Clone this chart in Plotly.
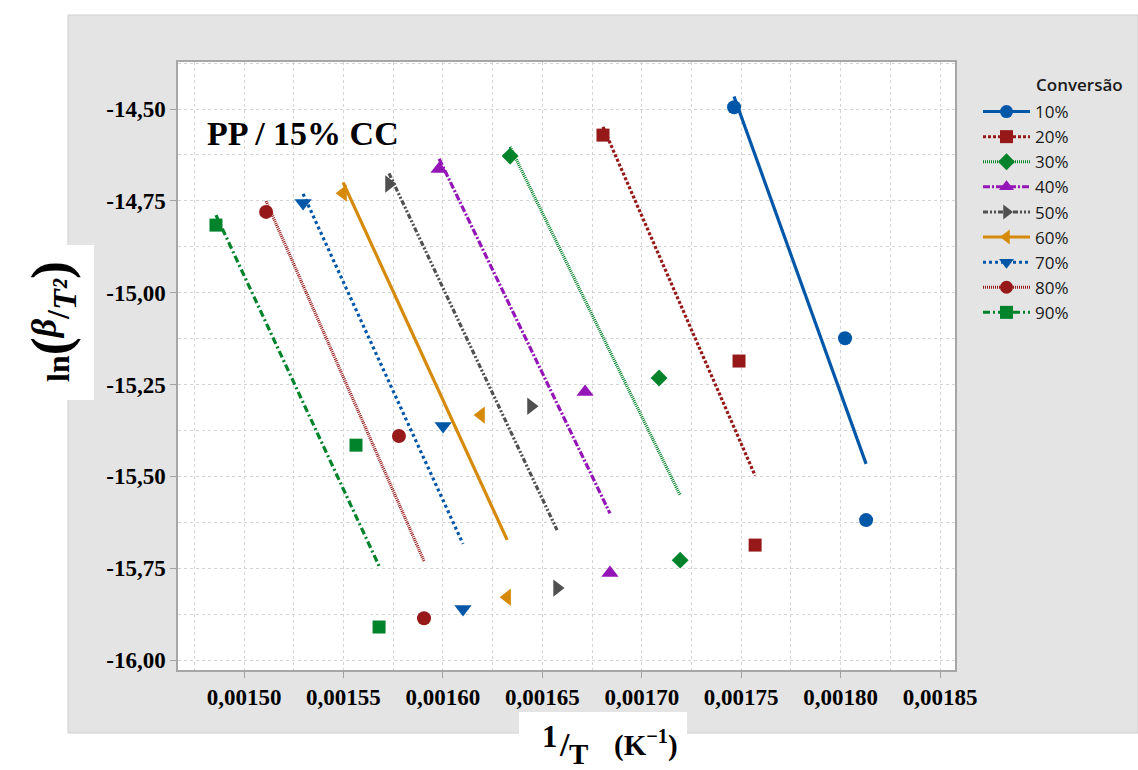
import numpy as np
import plotly.graph_objects as go

# Conversion levels (legend labels)
conversions = ["10%", "20%", "30%", "40%", "50%", "60%", "70%", "80%", "90%"]

# 1/T (K^-1) and ln(beta/T^2) for each conversion level (three heating rates)
x_10 = [0.0017464, 0.0018022, 0.0018128]
y_10 = [-14.495, -15.124, -15.619]
x_20 = [0.0016805, 0.0017489, 0.0017570]
y_20 = [-14.571, -15.186, -15.687]
x_30 = [0.0016338, 0.0017087, 0.0017193]
y_30 = [-14.628, -15.232, -15.728]
x_40 = [0.0015981, 0.0016715, 0.0016840]
y_40 = [-14.663, -15.270, -15.763]
x_50 = [0.0015729, 0.0016443, 0.0016574]
y_50 = [-14.704, -15.309, -15.804]
x_60 = [0.0015498, 0.0016192, 0.0016323]
y_60 = [-14.729, -15.333, -15.829]
x_70 = [0.0015297, 0.0016001, 0.0016101]
y_70 = [-14.756, -15.363, -15.861]
x_80 = [0.0015111, 0.0015779, 0.0015905]
y_80 = [-14.780, -15.390, -15.886]
x_90 = [0.0014859, 0.0015563, 0.0015679]
y_90 = [-14.816, -15.415, -15.910]

y_tick_vals = [-14.50, -14.75, -15.00, -15.25, -15.50, -15.75, -16.00]
y_tick_labels = ["-14,50", "-14,75", "-15,00", "-15,25", "-15,50", "-15,75", "-16,00"]

series_x = [x_10, x_20, x_30, x_40, x_50, x_60, x_70, x_80, x_90]
series_y = [y_10, y_20, y_30, y_40, y_50, y_60, y_70, y_80, y_90]

colors = ["#0057A8", "#961818", "#00832B", "#9416B6", "#505050",
          "#D68A0A", "#0057A8", "#961818", "#00832B"]
symbols = ["circle", "square", "diamond", "triangle-up", "triangle-right",
           "triangle-left", "triangle-down", "circle", "square"]
sizes = [14, 13, 13, 15, 15, 15, 15, 14, 13]
dashes = ["solid", "3px,2px", "1px,1px", "7px,2px,2px,2px",
          "5px,2px,2px,2px,2px,2px", "solid", "3px,3px", "1px,1px",
          "7px,3px,2px,3px"]

fig = go.Figure()

# Linear fit of ln(beta/T^2) vs 1/T for each conversion level
for xs, ys, c, d in zip(series_x, series_y, colors, dashes):
    xa, ya = np.array(xs), np.array(ys)
    slope, icpt = np.polyfit(xa, ya, 1)
    xf = np.array([xa.min(), xa.max()])
    fig.add_trace(go.Scatter(x=xf, y=slope * xf + icpt, mode="lines",
                             line=dict(color=c, width=3.2, dash=d),
                             showlegend=False, hoverinfo="skip"))

# Measured points
for name, xs, ys, c, s, sz in zip(conversions, series_x, series_y, colors, symbols, sizes):
    fig.add_trace(go.Scatter(x=xs, y=ys, mode="markers", name=name,
                             marker=dict(color=c, symbol=s, size=sz, line=dict(width=0)),
                             showlegend=False))

# Legend entries (line + marker)
for name, c, s, d in zip(conversions, colors, symbols, dashes):
    fig.add_trace(go.Scatter(x=[None], y=[None], mode="lines+markers", name=name,
                             line=dict(color=c, width=3, dash=d),
                             marker=dict(color=c, symbol=s, size=13)))

W, H = 1138, 770
L, R, T, B = 178, 955, 62, 670


def px(x):
    return (x - L) / (R - L)


def py(y):
    return (B - y) / (B - T)


shapes = [
    dict(type="rect", xref="paper", yref="paper", layer="below",
         x0=px(68), x1=px(1138), y0=py(733), y1=py(15),
         fillcolor="#E4E4E4", line=dict(color="#CFCFCF", width=1)),
    dict(type="rect", xref="paper", yref="paper", layer="below",
         x0=px(0), x1=px(94), y0=py(400), y1=py(245),
         fillcolor="white", line=dict(width=0)),
    dict(type="rect", xref="paper", yref="paper", layer="below",
         x0=px(519), x1=px(687), y0=py(772), y1=py(712),
         fillcolor="white", line=dict(width=0)),
    dict(type="rect", xref="paper", yref="paper", layer="below",
         x0=0, x1=1, y0=0, y1=1,
         fillcolor="white", line=dict(width=0)),
]

serif = "Liberation Serif"
grid = dict(showgrid=True, gridcolor="#D4D4D4", gridwidth=1.2, griddash="dot")


def label(text, x, y, size, **kw):
    return dict(text=text, xref="paper", yref="paper", x=px(x), y=py(y),
                xanchor="center", yanchor="middle", showarrow=False,
                font=dict(family=serif, size=size, color="black", weight="bold"), **kw)


fig.update_layout(
    width=W, height=H,
    margin=dict(l=L, r=W - R, t=T, b=H - B),
    paper_bgcolor="white", plot_bgcolor="white",
    separators=",.",
    shapes=shapes,
    showlegend=True,
    legend=dict(x=px(978), y=py(94), xanchor="left", yanchor="top",
                bgcolor="rgba(0,0,0,0)", font=dict(family="Open Sans", size=17, color="#1A1A1A"),
                tracegroupgap=0, itemwidth=47),
    xaxis=dict(range=[0.0014668, 0.0018575], tickmode="linear", tick0=0.0015, dtick=0.00005,
               tickformat=".5f", ticks="outside", ticklen=6, tickcolor="#A0A0A0",
               tickfont=dict(family=serif, size=23, color="black", weight="bold"),
               showline=True, mirror=True, linecolor="#A6A6A6", linewidth=1.5,
               zeroline=False,
               minor=dict(tickmode="linear", tick0=0.0015, dtick=0.000025, **grid),
               **grid),
    yaxis=dict(range=[-16.027, -14.372], tickmode="array", tickvals=y_tick_vals,
               ticktext=y_tick_labels, ticks="outside", ticklen=6, tickcolor="#A0A0A0",
               tickfont=dict(family=serif, size=23, color="black", weight="bold"),
               showline=True, mirror=True, linecolor="#A6A6A6", linewidth=1.5,
               zeroline=False,
               minor=dict(tickmode="linear", tick0=-14.5, dtick=0.125, **grid),
               **grid),
    annotations=[
        label("PP / 15% CC", 303, 133, 34),
        label('ln<span style="font-size:54px">(</span>'
              '<sup><span style="font-size:36px"><i>β</i></span></sup>/'
              '<sub><span style="font-size:34px"><i>T²</i></span></sub>'
              '<span style="font-size:54px">)</span>',
              52, 322, 32, textangle=-90),
        # x-axis title: 1/T (K^-1)
        label("1", 550, 736, 31),
        label("/", 564, 744, 34),
        label("T", 578, 754, 29),
        label("(K<sup>−1</sup>)", 646, 743, 29),
        dict(text="Conversão", xref="paper", yref="paper", x=px(1034), y=py(85),
             xanchor="left", yanchor="middle", showarrow=False,
             font=dict(family="Open Sans", size=17, color="#1A1A1A", weight=600)),
    ],
)

fig.write_html("out.html")
